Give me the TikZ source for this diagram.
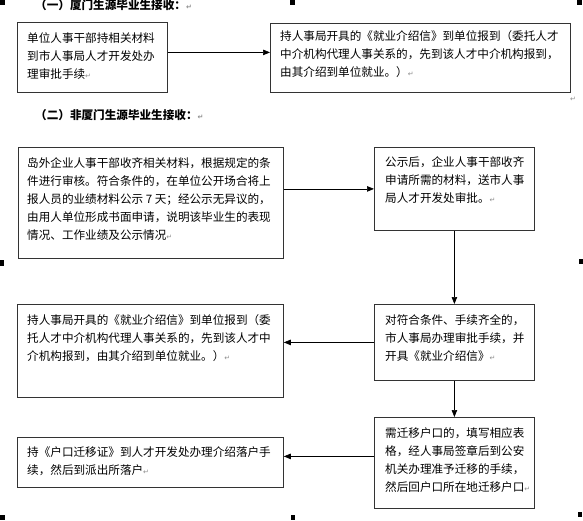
\documentclass[tikz,border=0pt]{standalone}
\usepackage{fontspec}
\setmainfont{Noto Sans CJK SC}
\newfontfamily\dvfont{DejaVu Sans}
\usetikzlibrary{arrows.meta}
\newcommand\pmk{{\dvfont\color{black!45}\fontsize{7}{7}\selectfont ↵}}
\tikzset{
  box/.style={draw=black!80, line width=0.8pt, rectangle, inner sep=0pt, anchor=north west},
  txt/.style={anchor=north west, inner sep=0pt, align=left, font=\fontsize{11.6}{18}\selectfont},
  ttl/.style={anchor=west, inner sep=0pt, font=\fontsize{11.6}{14}\selectfont\bfseries},
  arr/.style={line width=0.7pt, -{Triangle[length=7pt,width=5.5pt]}},
  mk/.style={fill=black}
}
\begin{document}
\begin{tikzpicture}[x=1pt,y=-1pt]
\useasboundingbox (0,0) rectangle (583,520);
% corner marks
\fill[mk] (0,0) rectangle (5,5);
\fill[mk] (290,0) rectangle (295,5);
\fill[mk] (577,0) rectangle (582,5);
\fill[mk] (0,260) rectangle (4,266);
\fill[mk] (579,259) rectangle (583,264);
\fill[mk] (0,515) rectangle (5,520);
\fill[mk] (291,515) rectangle (295,520);
\fill[mk] (578,512) rectangle (582,517);
% titles
\node[ttl] (t1) at (35,5) {（一）厦门生源毕业生接收：\pmk};
\node[ttl] (t2) at (35,115) {（二）非厦门生源毕业生接收：\pmk};
\node[inner sep=0pt] (pm) at (573,99) {\pmk};
% boxes
\node[box, minimum width=150pt, minimum height=70pt] (b1) at (17,22) {};
\node[box, minimum width=300pt, minimum height=69pt] (b2) at (270,23) {};
\node[box, minimum width=265pt, minimum height=111pt] (b3) at (18,147) {};
\node[box, minimum width=160pt, minimum height=83pt] (b4) at (374,147) {};
\node[box, minimum width=160pt, minimum height=76pt] (b5) at (374,304) {};
\node[box, minimum width=266pt, minimum height=93pt] (b6) at (17,304) {};
\node[box, minimum width=160pt, minimum height=91pt] (b7) at (374,417) {};
\node[box, minimum width=266pt, minimum height=50pt] (b8) at (17,437) {};
% texts
\node[txt] (x1) at ([xshift=10pt,yshift=-10pt]b1.north west) {单位人事干部持相关材料\\到市人事局人才开发处办\\理审批手续\pmk};
\node[txt] (x2) at ([xshift=10pt,yshift=-7pt]b2.north west) {持人事局开具的《就业介绍信》到单位报到（委托人才\\中介机构代理人事关系的，先到该人才中介机构报到，\\由其介绍到单位就业。）\pmk};
\node[txt] (x3) at ([xshift=9pt,yshift=-10pt]b3.north west) {岛外企业人事干部收齐相关材料，根据规定的条\\件进行审核。符合条件的，在单位公开场合将上\\报人员的业绩材料公示 7 天；经公示无异议的，\\由用人单位形成书面申请，说明该毕业生的表现\\情况、工作业绩及公示情况\pmk};
\node[txt] (x4) at ([xshift=11pt,yshift=-9.5pt]b4.north west) {公示后，企业人事干部收齐\\申请所需的材料，送市人事\\局人才开发处审批。\pmk};
\node[txt] (x5) at ([xshift=11pt,yshift=-10pt]b5.north west) {对符合条件、手续齐全的，\\市人事局办理审批手续，并\\开具《就业介绍信》\pmk};
\node[txt] (x6) at ([xshift=10pt,yshift=-10pt]b6.north west) {持人事局开具的《就业介绍信》到单位报到（委\\托人才中介机构代理人事关系的，先到该人才中\\介机构报到，由其介绍到单位就业。）\pmk};
\node[txt] (x7) at ([xshift=11pt,yshift=-10pt]b7.north west) {需迁移户口的，填写相应表\\格，经人事局签章后到公安\\机关办理准予迁移的手续，\\然后回户口所在地迁移户口\pmk};
\node[txt] (x8) at ([xshift=10pt,yshift=-9.5pt]b8.north west) {持《户口迁移证》到人才开发处办理介绍落户手\\续，然后到派出所落户\pmk};
% connectors
\draw[arr] ([yshift=5pt]b1.east) -- ([yshift=5pt]b1.east -| b2.west);
\draw[arr] (b3.east |- b4.west) -- (b4.west);
\draw[arr] (b4.south) -- (b5.north);
\draw[arr] (b5.west) -- (b5.west -| b6.east);
\draw[arr] (b5.south) -- (b7.north);
\draw[arr] ([yshift=6pt]b7.west |- b8.east) -- ([yshift=6pt]b8.east);
\end{tikzpicture}
\end{document}
